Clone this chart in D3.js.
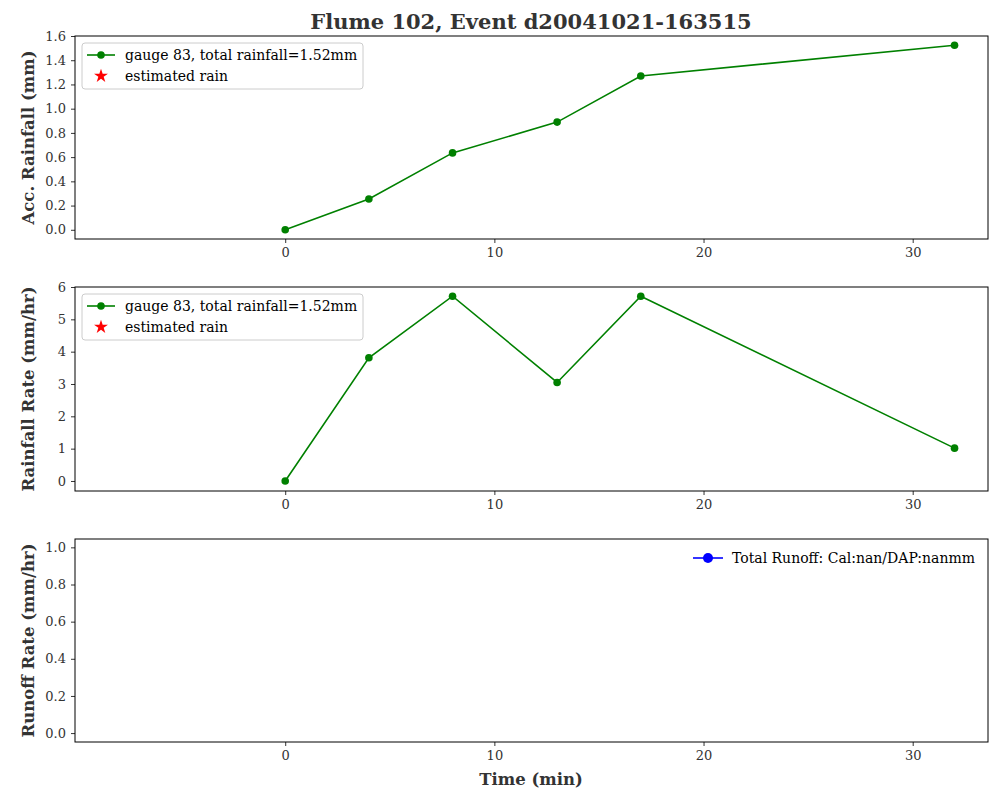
<!DOCTYPE html>
<html><head><meta charset="utf-8">
<script src="https://cdn.jsdelivr.net/npm/d3@7"></script>
<style>body{margin:0;background:#fff}text{font-family:"DejaVu Serif",serif}</style>
</head><body><svg id="c" width="1000" height="800"></svg>
<script>
const times=[0,4,8,13,17,32];
const accRain=[0,0.254,0.635,0.889,1.27,1.524];
const rainRate=[0,3.81,5.715,3.048,5.715,1.016];
const xTicks=[0,10,20,30];
const legRain="gauge 83, total rainfall=1.52mm";
const legEst="estimated rain";
const legRunoff="Total Runoff: Cal:nan/DAP:nanmm";
const svg=d3.select("#c");
svg.append("rect").attr("width",1000).attr("height",800).attr("fill","#fff");
const L=75,R=988;
const x=d3.scaleLinear().domain([-10.05,33.6]).range([L,R]);
svg.append("text").attr("x",531).attr("y",29).attr("text-anchor","middle").attr("font-size",21).attr("font-weight","bold").attr("fill","#333").text("Flume 102, Event d20041021-163515");
const panels=[
 {t:36,b:239,dom:[-0.076,1.6],ticks:d3.range(0,1.61,0.2),fmt:d3.format(".1f"),label:"Acc. Rainfall (mm)",data:accRain},
 {t:287,b:491,dom:[-0.31,6],ticks:[0,1,2,3,4,5,6],fmt:d3.format("d"),label:"Rainfall Rate (mm/hr)",data:rainRate},
 {t:539,b:742,dom:[-0.048,1.045],ticks:d3.range(0,1.01,0.2),fmt:d3.format(".1f"),label:"Runoff Rate (mm/hr)",data:null}
];
panels.forEach((p,i)=>{
 const y=d3.scaleLinear().domain(p.dom).range([p.b,p.t]);
 const g=svg.append("g");
 const ax=g.append("g").attr("transform",`translate(0,${p.b})`).call(d3.axisBottom(x).tickValues(xTicks).tickSize(4).tickPadding(5));
 const ay=g.append("g").attr("transform",`translate(${L},0)`).call(d3.axisLeft(y).tickValues(p.ticks).tickFormat(p.fmt).tickSize(4).tickPadding(5));
 [ax,ay].forEach(a=>{a.select(".domain").remove();a.selectAll("text").attr("font-size",13).attr("fill","#333").style("font-family","DejaVu Serif");a.selectAll("line").attr("stroke","#333");});
 g.append("rect").attr("x",L).attr("y",p.t).attr("width",R-L).attr("height",p.b-p.t).attr("fill","none").attr("stroke","#000").attr("stroke-width",1);
 g.append("text").attr("transform",`translate(34,${(p.t+p.b)/2}) rotate(-90)`).attr("text-anchor","middle").attr("font-size",16.5).attr("font-weight","bold").attr("fill","#333").text(p.label);
 if(p.data){
  g.append("path").datum(p.data).attr("fill","none").attr("stroke","green").attr("stroke-width",1.6)
   .attr("d",d3.line().x((d,j)=>x(times[j])).y(d=>y(d)));
  g.selectAll("circle.m").data(p.data).enter().append("circle").attr("cx",(d,j)=>x(times[j])).attr("cy",d=>y(d)).attr("r",3.8).attr("fill","green");
  const lx=82,ly=p.t+7;
  g.append("rect").attr("x",lx).attr("y",ly).attr("width",281).attr("height",46).attr("rx",3).attr("fill","#fff").attr("fill-opacity",0.8).attr("stroke","#ccc");
  g.append("line").attr("x1",lx+5).attr("x2",lx+33).attr("y1",ly+12).attr("y2",ly+12).attr("stroke","green").attr("stroke-width",1.6);
  g.append("circle").attr("cx",lx+19).attr("cy",ly+12).attr("r",3.8).attr("fill","green");
  g.append("text").attr("x",lx+43).attr("y",ly+17).attr("font-size",14).text(legRain);
  g.append("path").attr("d",d3.symbol().type(d3.symbolStar).size(60)()).attr("transform",`translate(${lx+19},${ly+33})`).attr("fill","red");
  g.append("text").attr("x",lx+43).attr("y",ly+38).attr("font-size",14).text(legEst);
 } else {
  const ly=558;
  g.append("line").attr("x1",693).attr("x2",723).attr("y1",ly).attr("y2",ly).attr("stroke","blue").attr("stroke-width",1.6);
  g.append("circle").attr("cx",708).attr("cy",ly).attr("r",5).attr("fill","blue");
  g.append("text").attr("x",732).attr("y",ly+5).attr("font-size",14).text(legRunoff);
 }
});
svg.append("text").attr("x",531).attr("y",785).attr("text-anchor","middle").attr("font-size",16.5).attr("font-weight","bold").attr("fill","#333").text("Time (min)");
</script></body></html>
